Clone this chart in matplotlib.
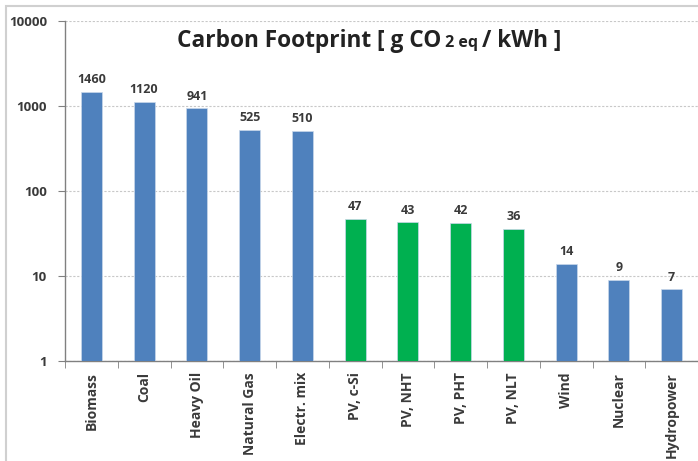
import matplotlib
matplotlib.use("Agg")
import matplotlib.pyplot as plt
import matplotlib.patches as mpatches
from matplotlib.ticker import FixedLocator, NullLocator, FixedFormatter

categories = ["Biomass", "Coal", "Heavy Oil", "Natural Gas", "Electr. mix",
              "PV, c-Si", "PV, NHT", "PV, PHT", "PV, NLT",
              "Wind", "Nuclear", "Hydropower"]
values = [1460, 1120, 941, 525, 510, 47, 43, 42, 36, 14, 9, 7]
groups = ["conv"] * 5 + ["pv"] * 4 + ["conv"] * 3
yticks = [1, 10, 100, 1000, 10000]
ytick_labels = ["1", "10", "100", "1000", "10000"]

color_map = {"conv": "#4F81BD", "pv": "#00B050"}
text_color = "#3a3a3a"

plt.rcParams['font.family'] = ['Open Sans', 'DejaVu Sans']

fig = plt.figure(figsize=(6.98, 4.61), dpi=100)
ax = fig.add_axes([65 / 698, 1 - 361 / 461, 1 - 65 / 698, (361 - 21) / 461])

x = list(range(len(categories)))
ax.bar(x, values, width=0.4, color=[color_map[g] for g in groups],
       edgecolor="#c9d8ea", linewidth=0.5, zorder=3)
ax.set_yscale("log")
ax.set_ylim(1, 10000)
ax.set_xlim(-0.5, len(categories) - 0.5)

ax.yaxis.set_major_locator(FixedLocator(yticks))
ax.yaxis.set_major_formatter(FixedFormatter(ytick_labels))
ax.yaxis.set_minor_locator(NullLocator())

ax.set_xticks(x)
ax.set_xticklabels(categories, rotation=90, fontsize=10, fontweight="bold", color=text_color)
ax.set_xticks([i + 0.5 for i in range(-1, len(categories))], minor=True)
ax.tick_params(axis="x", which="major", length=0, pad=8)
ax.tick_params(axis="x", which="minor", length=5, color="#808080", direction="out")
ax.tick_params(axis="y", which="major", length=5, color="#808080", labelsize=9.5,
               labelcolor=text_color, pad=8)
for lbl in ax.get_yticklabels():
    lbl.set_fontweight("bold")

ax.grid(axis="y", which="major", linestyle=(0, (2, 1.5)), color="#c8c8c8", linewidth=0.8, zorder=0)
for side in ["top", "right"]:
    ax.spines[side].set_visible(False)
for side in ["left", "bottom"]:
    ax.spines[side].set_color("#808080")
    ax.spines[side].set_linewidth(1.0)

for xi, v in zip(x, values):
    ax.annotate(str(v), (xi, v), xytext=(0, 4), textcoords="offset points",
                ha="center", va="bottom", fontsize=9, fontweight="bold", color=text_color)

# Title with subscript-like "2 eq"
ty = 1 - 41 / 461
title_color = "#222222"
t1 = fig.text(0, ty, "Carbon Footprint [ g CO", ha="left", va="center",
              fontsize=16.3, fontweight="bold", color=title_color)
t2 = fig.text(0, ty - 0.004, " 2 eq ", ha="left", va="center",
              fontsize=11.5, fontweight="bold", color=title_color)
t3 = fig.text(0, ty, "/ kWh ]", ha="left", va="center",
              fontsize=16.3, fontweight="bold", color=title_color)
fig.canvas.draw()
r = fig.canvas.get_renderer()
w1 = t1.get_window_extent(r).width
w2 = t2.get_window_extent(r).width
w3 = t3.get_window_extent(r).width
total = w1 + w2 + w3
x0 = 369 - total / 2
t1.set_x(x0 / 698)
t2.set_x((x0 + w1) / 698)
t3.set_x((x0 + w1 + w2) / 698)

rect = mpatches.Rectangle((5.5 / 698, -0.1), 1.2, (461 - 6.5) / 461 + 0.1,
                          transform=fig.transFigure, fill=False,
                          edgecolor="#d0d0d0", linewidth=1.5, clip_on=False)
fig.patches.append(rect)

fig.savefig("out.png", dpi=100)
